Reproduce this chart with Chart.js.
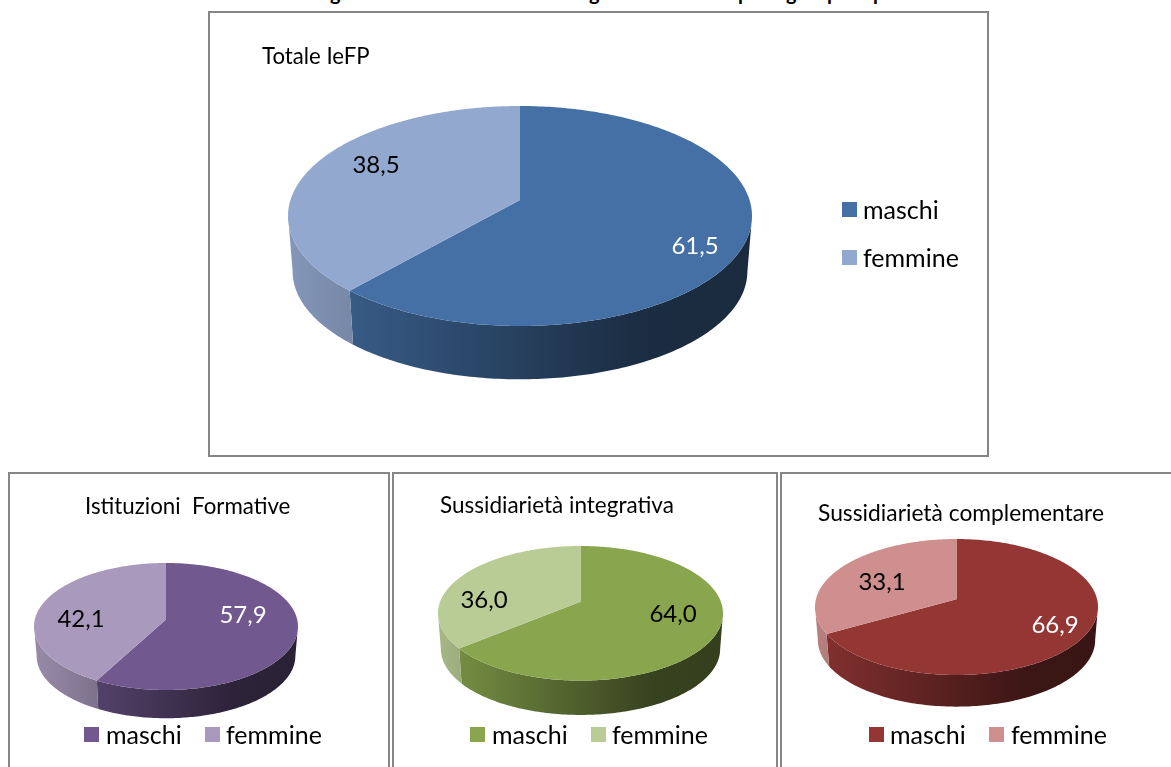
<!DOCTYPE html>
<html>
<head>
<meta charset="utf-8">
<script src="https://cdn.jsdelivr.net/npm/chart.js@4"></script>
<style>
    html, body { margin: 0; padding: 0; background: #fff; overflow: hidden; }
    body { width: 1171px; height: 767px; position: relative; font-family: Lato, sans-serif; color: #000; }
    .panel { position: absolute; box-sizing: border-box; border: 2px solid #868686; background: #fff; }
    .panel canvas { position: absolute; left: 0; top: 0; }
    .txt { position: absolute; white-space: pre; line-height: 1; }
    .box { position: absolute; width: 15px; height: 15px; }
</style>
</head>
<body>
<script>
// valori
const legendLabels = ['maschi', 'femmine'];
const chartTitles = ['Totale IeFP', 'Istituzioni  Formative', 'Sussidiarietà integrativa', 'Sussidiarietà complementare'];
const totaleValues = [61.5, 38.5];
const istituzioniValues = [57.9, 42.1];
const integrativaValues = [64.0, 36.0];
const complementareValues = [66.9, 33.1];

const seriesValues = [totaleValues, istituzioniValues, integrativaValues, complementareValues];
const seriesColors = [
    ['#4470a6', '#93a8cf'],
    ['#71588f', '#a99abd'],
    ['#89a54e', '#b9cc95'],
    ['#943634', '#ce8f8e']
];
const labelColors = [
    ['#ffffff', '#000000'],
    ['#ffffff', '#000000'],
    ['#000000', '#000000'],
    ['#ffffff', '#000000']
];

// resti della didascalia tagliata in alto: solo le code delle lettere
const captionGlyphs = [['g', 330], ['g', 589], ['p', 738], ['g', 786], ['p', 827], ['p', 873]];

// layout: page coordinates of every panel
const layouts = [
    { box: [208, 11, 781, 446], cx: 520, cy: 216, rx: 232, ry: 110, k: 0.145, depthY: 55.5,
      labels: [[695, 246], [376, 165]], labelSize: 24, title: [262, 45, 22.2],
      legend: [[842, 202, 863, 197], [842, 250, 863, 245]], legendSize: 25 },
    { box: [8, 472, 382, 300], cx: 166, cy: 626.5, rx: 132, ry: 63.5, k: 0.11, depthY: 29.5,
      labels: [[243, 615], [81, 619]], labelSize: 24, title: [85, 495, 22.3],
      legend: [[84, 727, 106, 722], [205, 727, 226, 722]], legendSize: 25 },
    { box: [392, 472, 386, 300], cx: 580.5, cy: 613.3, rx: 142.5, ry: 67.3, k: 0.17, depthY: 35.7,
      labels: [[673, 614], [484, 600]], labelSize: 24, title: [440, 494, 22.5],
      legend: [[470, 727, 492, 722], [591, 727, 612, 722]], legendSize: 25 },
    { box: [780, 472, 396, 300], cx: 956.5, cy: 607, rx: 141.5, ry: 68, k: 0.113, depthY: 33,
      labels: [[1055, 625], [882, 582]], labelSize: 24, title: [818, 501, 22.8],
      legend: [[869, 727, 890, 722], [989, 727, 1011, 722]], legendSize: 25 }
];

function shade(hex, f) {
    const n = parseInt(hex.slice(1), 16);
    const r = Math.round((n >> 16) * f), g = Math.round(((n >> 8) & 255) * f), b = Math.round((n & 255) * f);
    return 'rgb(' + r + ',' + g + ',' + b + ')';
}

// punto sul bordo dell'ellisse: la prospettiva sposta il vertice sopra il centro
function rimPoint(lay, angle, rx, ry, cy) {
    const t = angle + Math.PI / 2;
    const u = Math.sin(t), v = Math.cos(t), k = lay.k;
    const d = 1 + k * v;
    return { x: lay.cx + rx * u * Math.sqrt(1 - k * k) / d, y: cy - ry * (v + k) / d };
}

const pie3d = {
    id: 'pie3d',
    beforeDatasetsDraw: function (chart, args, options) {
        const lay = options.lay;
        const ctx = chart.ctx;
        const ox = lay.box[0] + 2, oy = lay.box[1] + 2;
        const arcs = chart.getDatasetMeta(0).data;
        const colors = chart.data.datasets[0].backgroundColor;
        const rxB = lay.rx * 0.98, ryB = lay.ry * 0.98, cyB = lay.cy + lay.depthY;

        ctx.save();
        ctx.translate(-ox, -oy);

        // pareti
        arcs.forEach(function (arc, i) {
            const steps = 240;
            const top = [], bottom = [];
            for (let s = 0; s <= steps; s++) {
                const a = arc.startAngle + (arc.endAngle - arc.startAngle) * s / steps;
                const p = rimPoint(lay, a, lay.rx, lay.ry, lay.cy);
                if (p.y >= lay.cy - 0.5) {
                    top.push(p);
                    bottom.push(rimPoint(lay, a, rxB, ryB, cyB));
                }
            }
            if (!top.length) return;
            const grad = ctx.createLinearGradient(lay.cx - lay.rx, 0, lay.cx + lay.rx, 0);
            grad.addColorStop(0, shade(colors[i], 0.9));
            grad.addColorStop(0.75, shade(colors[i], 0.4));
            grad.addColorStop(1, shade(colors[i], 0.38));
            ctx.beginPath();
            top.forEach(function (p, j) { j ? ctx.lineTo(p.x, p.y) : ctx.moveTo(p.x, p.y); });
            bottom.reverse().forEach(function (p) { ctx.lineTo(p.x, p.y); });
            ctx.closePath();
            ctx.fillStyle = grad;
            ctx.fill();
        });

        // faccia superiore
        arcs.forEach(function (arc, i) {
            const apex = { x: lay.cx, y: lay.cy - lay.ry * lay.k };
            const steps = 240;
            ctx.beginPath();
            ctx.moveTo(apex.x, apex.y);
            for (let s = 0; s <= steps; s++) {
                const a = arc.startAngle + (arc.endAngle - arc.startAngle) * s / steps;
                const p = rimPoint(lay, a, lay.rx, lay.ry, lay.cy);
                ctx.lineTo(p.x, p.y);
            }
            ctx.closePath();
            ctx.fillStyle = colors[i];
            ctx.fill();
        });

        // etichette
        ctx.font = lay.labelSize + 'px Lato';
        ctx.textAlign = 'center';
        ctx.textBaseline = 'middle';
        chart.data.datasets[0].data.forEach(function (val, i) {
            ctx.fillStyle = options.labelColor[i];
            ctx.fillText(val.toFixed(1).replace('.', ','), lay.labels[i][0], lay.labels[i][1]);
        });
        ctx.restore();
        return false;
    }
};

function addText(text, x, y, size) {
    const d = document.createElement('div');
    d.className = 'txt';
    d.textContent = text;
    d.style.left = x + 'px';
    d.style.top = y + 'px';
    d.style.fontSize = size + 'px';
    document.body.appendChild(d);
    return d;
}

captionGlyphs.forEach(function (g) {
    addText(g[0], g[1], -18, 20).style.fontWeight = 'bold';
});

seriesValues.forEach(function (values, n) {
    const lay = layouts[n];
    const panel = document.createElement('div');
    panel.className = 'panel';
    panel.style.left = lay.box[0] + 'px';
    panel.style.top = lay.box[1] + 'px';
    panel.style.width = lay.box[2] + 'px';
    panel.style.height = lay.box[3] + 'px';
    const cv = document.createElement('canvas');
    cv.width = lay.box[2] - 4;
    cv.height = lay.box[3] - 4;
    panel.appendChild(cv);
    document.body.appendChild(panel);

    new Chart(cv.getContext('2d'), {
        type: 'pie',
        data: {
            labels: legendLabels,
            datasets: [{ data: values, backgroundColor: seriesColors[n], borderWidth: 0 }]
        },
        plugins: [pie3d],
        options: {
            responsive: false,
            animation: false,
            plugins: {
                legend: { display: false },
                tooltip: { enabled: false },
                pie3d: { lay: lay, labelColor: labelColors[n] }
            }
        }
    });

    addText(chartTitles[n], lay.title[0], lay.title[1], lay.title[2]);
    legendLabels.forEach(function (name, i) {
        const b = document.createElement('div');
        b.className = 'box';
        b.style.left = lay.legend[i][0] + 'px';
        b.style.top = lay.legend[i][1] + 'px';
        b.style.background = seriesColors[n][i];
        document.body.appendChild(b);
        addText(name, lay.legend[i][2], lay.legend[i][3], lay.legendSize);
    });
});
</script>
</body>
</html>
